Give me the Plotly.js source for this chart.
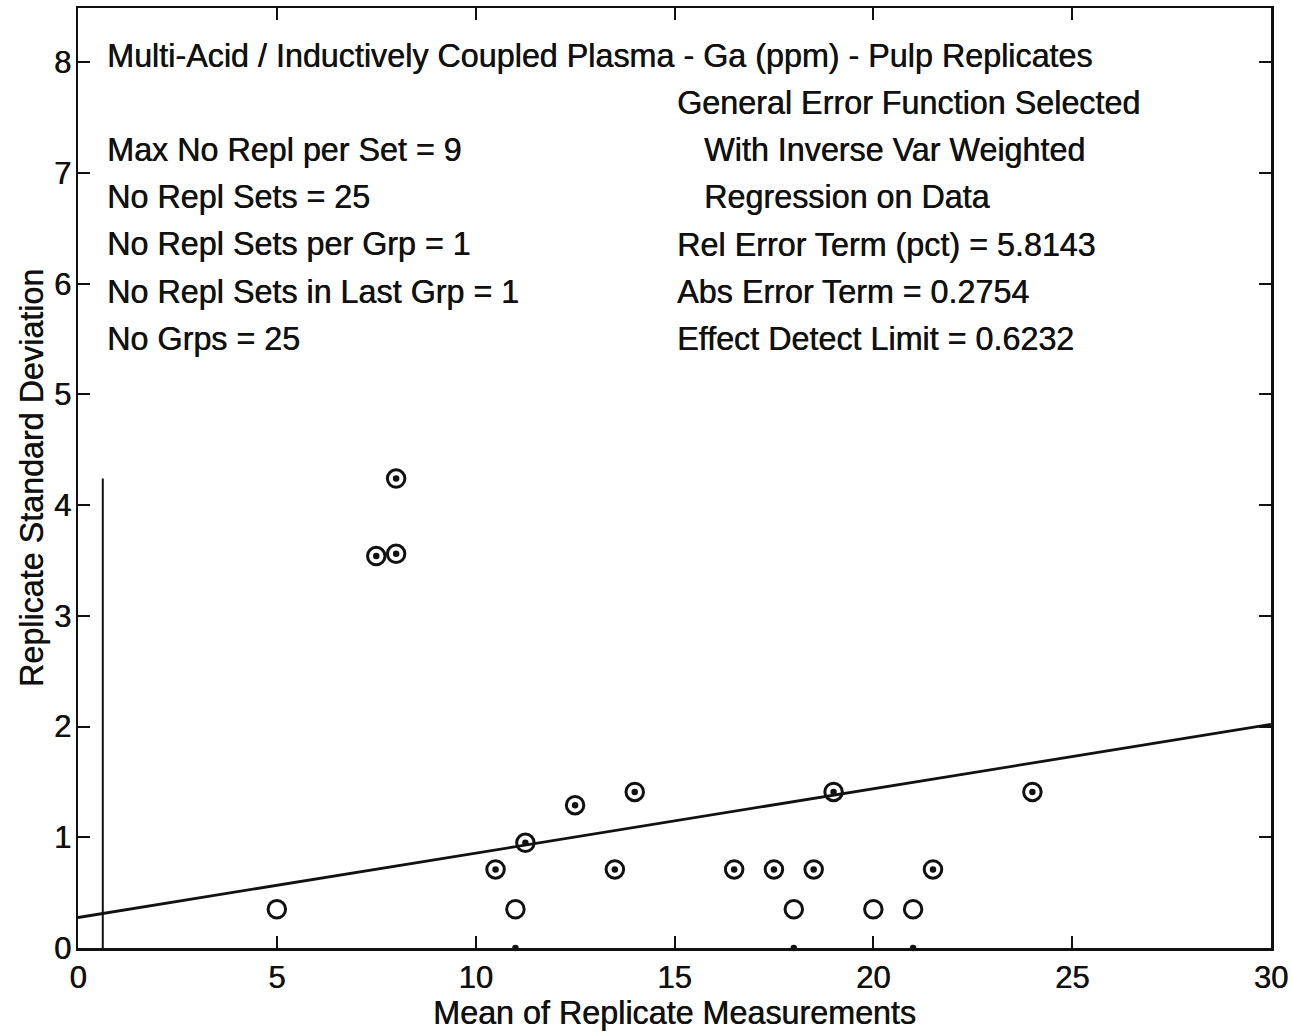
<!DOCTYPE html>
<html>
<head>
<meta charset="utf-8">
<script src="https://cdn.plot.ly/plotly-3.0.1.min.js"></script>
<style>html,body{margin:0;padding:0;background:#fff;}#chart{width:1291px;height:1032px;}</style>
</head>
<body>
<div id="chart"></div>
<script>
// Replicate sets: mean vs standard deviation
const dotMeans = [7.5, 8.0, 8.0, 10.5, 11.25, 12.5, 13.5, 14.0, 16.5, 17.5, 18.5, 19.0, 21.5, 24.0];
const dotSDs   = [3.54, 3.56, 4.24, 0.71, 0.95, 1.29, 0.71, 1.41, 0.71, 0.71, 0.71, 1.41, 0.71, 1.41];
const openMeans = [5.0, 11.0, 18.0, 20.0, 21.0];
const openSDs   = [0.35, 0.35, 0.35, 0.35, 0.35];
const zeroMeans = [11.0, 18.0, 21.0];
const zeroSDs   = [0, 0, 0];

const relErrPct = 5.8143;
const absErr = 0.2754;
const detectLimit = 0.6232;
const xMax = 30;

const xTicks = [0, 5, 10, 15, 20, 25, 30];
const yTicks = [0, 1, 2, 3, 4, 5, 6, 7, 8];

const leftLines = [
  "Max No Repl per Set = 9",
  "No Repl Sets = 25",
  "No Repl Sets per Grp = 1",
  "No Repl Sets in Last Grp = 1",
  "No Grps = 25"
];
const rightLines = [
  "General Error Function Selected",
  "   With Inverse Var Weighted",
  "   Regression on Data",
  "Rel Error Term (pct) = 5.8143",
  "Abs Error Term = 0.2754",
  "Effect Detect Limit = 0.6232"
];
const titleText = "Multi-Acid / Inductively Coupled Plasma - Ga (ppm) - Pulp Replicates";

const allSD = dotSDs.concat(openSDs);
const maxSD = Math.max.apply(null, allSD);

const FONT = "Liberation Sans, Arial, sans-serif";
const FS = 32.3;
const SH = '0.5px 0px 0px #111';
const traces = [
  {x: [0, xMax], y: [absErr, absErr + relErrPct / 100 * xMax], mode: 'lines',
   line: {color: '#111', width: 2.8}, hoverinfo: 'skip'},
  {x: [detectLimit, detectLimit], y: [0, maxSD], mode: 'lines',
   line: {color: '#111', width: 2}, hoverinfo: 'skip'},
  {x: dotMeans.concat(openMeans), y: dotSDs.concat(openSDs), mode: 'markers',
   marker: {symbol: 'circle-open', size: 17.5, color: '#111', line: {width: 3, color: '#111'}}},
  {x: dotMeans.concat(zeroMeans), y: dotSDs.concat(zeroSDs), mode: 'markers',
   marker: {symbol: 'circle', size: 6.5, color: '#111', line: {width: 0}}, cliponaxis: false}
];

const ypx = (p) => (948 - p) / 940;
const xpx = (p) => (p - 78) / 1193;
const annotations = [];
const tfont = {family: FONT, size: FS, color: '#111', shadow: SH};
annotations.push({text: titleText, xref: 'paper', yref: 'paper', x: xpx(105), y: ypx(56),
  xanchor: 'left', yanchor: 'middle', showarrow: false, font: tfont});
leftLines.forEach((t, i) => annotations.push({text: t, xref: 'paper', yref: 'paper',
  x: xpx(105), y: ypx(150 + 47.2 * i), xanchor: 'left', yanchor: 'middle', showarrow: false,
  font: tfont}));
rightLines.forEach((t, i) => {
  const indent = t.startsWith('   ');
  annotations.push({text: t.trim(), xref: 'paper', yref: 'paper',
    x: xpx(indent ? 702 : 675), y: ypx(103 + 47.2 * i), xanchor: 'left', yanchor: 'middle',
    showarrow: false, font: tfont});
});

const axisCommon = {
  showgrid: false, zeroline: false, showline: true, linecolor: '#111', linewidth: 2.5,
  mirror: 'ticks', ticks: 'inside', ticklen: 12, tickwidth: 2, tickcolor: '#111',
  tickfont: {family: FONT, size: 31, color: '#111', shadow: SH}
};

const layout = {
  width: 1291, height: 1032,
  margin: {l: 78, r: 20, t: 8, b: 84},
  paper_bgcolor: '#fff', plot_bgcolor: '#fff',
  showlegend: false,
  xaxis: Object.assign({}, axisCommon, {range: [0, 30], tickvals: xTicks, ticktext: xTicks.map(String),
    ticklabelstandoff: 0,
    title: {text: 'Mean of Replicate Measurements', font: tfont, standoff: 2}}),
  yaxis: Object.assign({}, axisCommon, {range: [0, 8.49], tickvals: yTicks, ticktext: yTicks.map(String),
    ticklabelstandoff: -2,
    title: {text: 'Replicate Standard Deviation', font: tfont, standoff: 1}}),
  annotations: annotations
};

Plotly.newPlot('chart', traces, layout, {displayModeBar: false, staticPlot: true});
</script>
</body>
</html>
